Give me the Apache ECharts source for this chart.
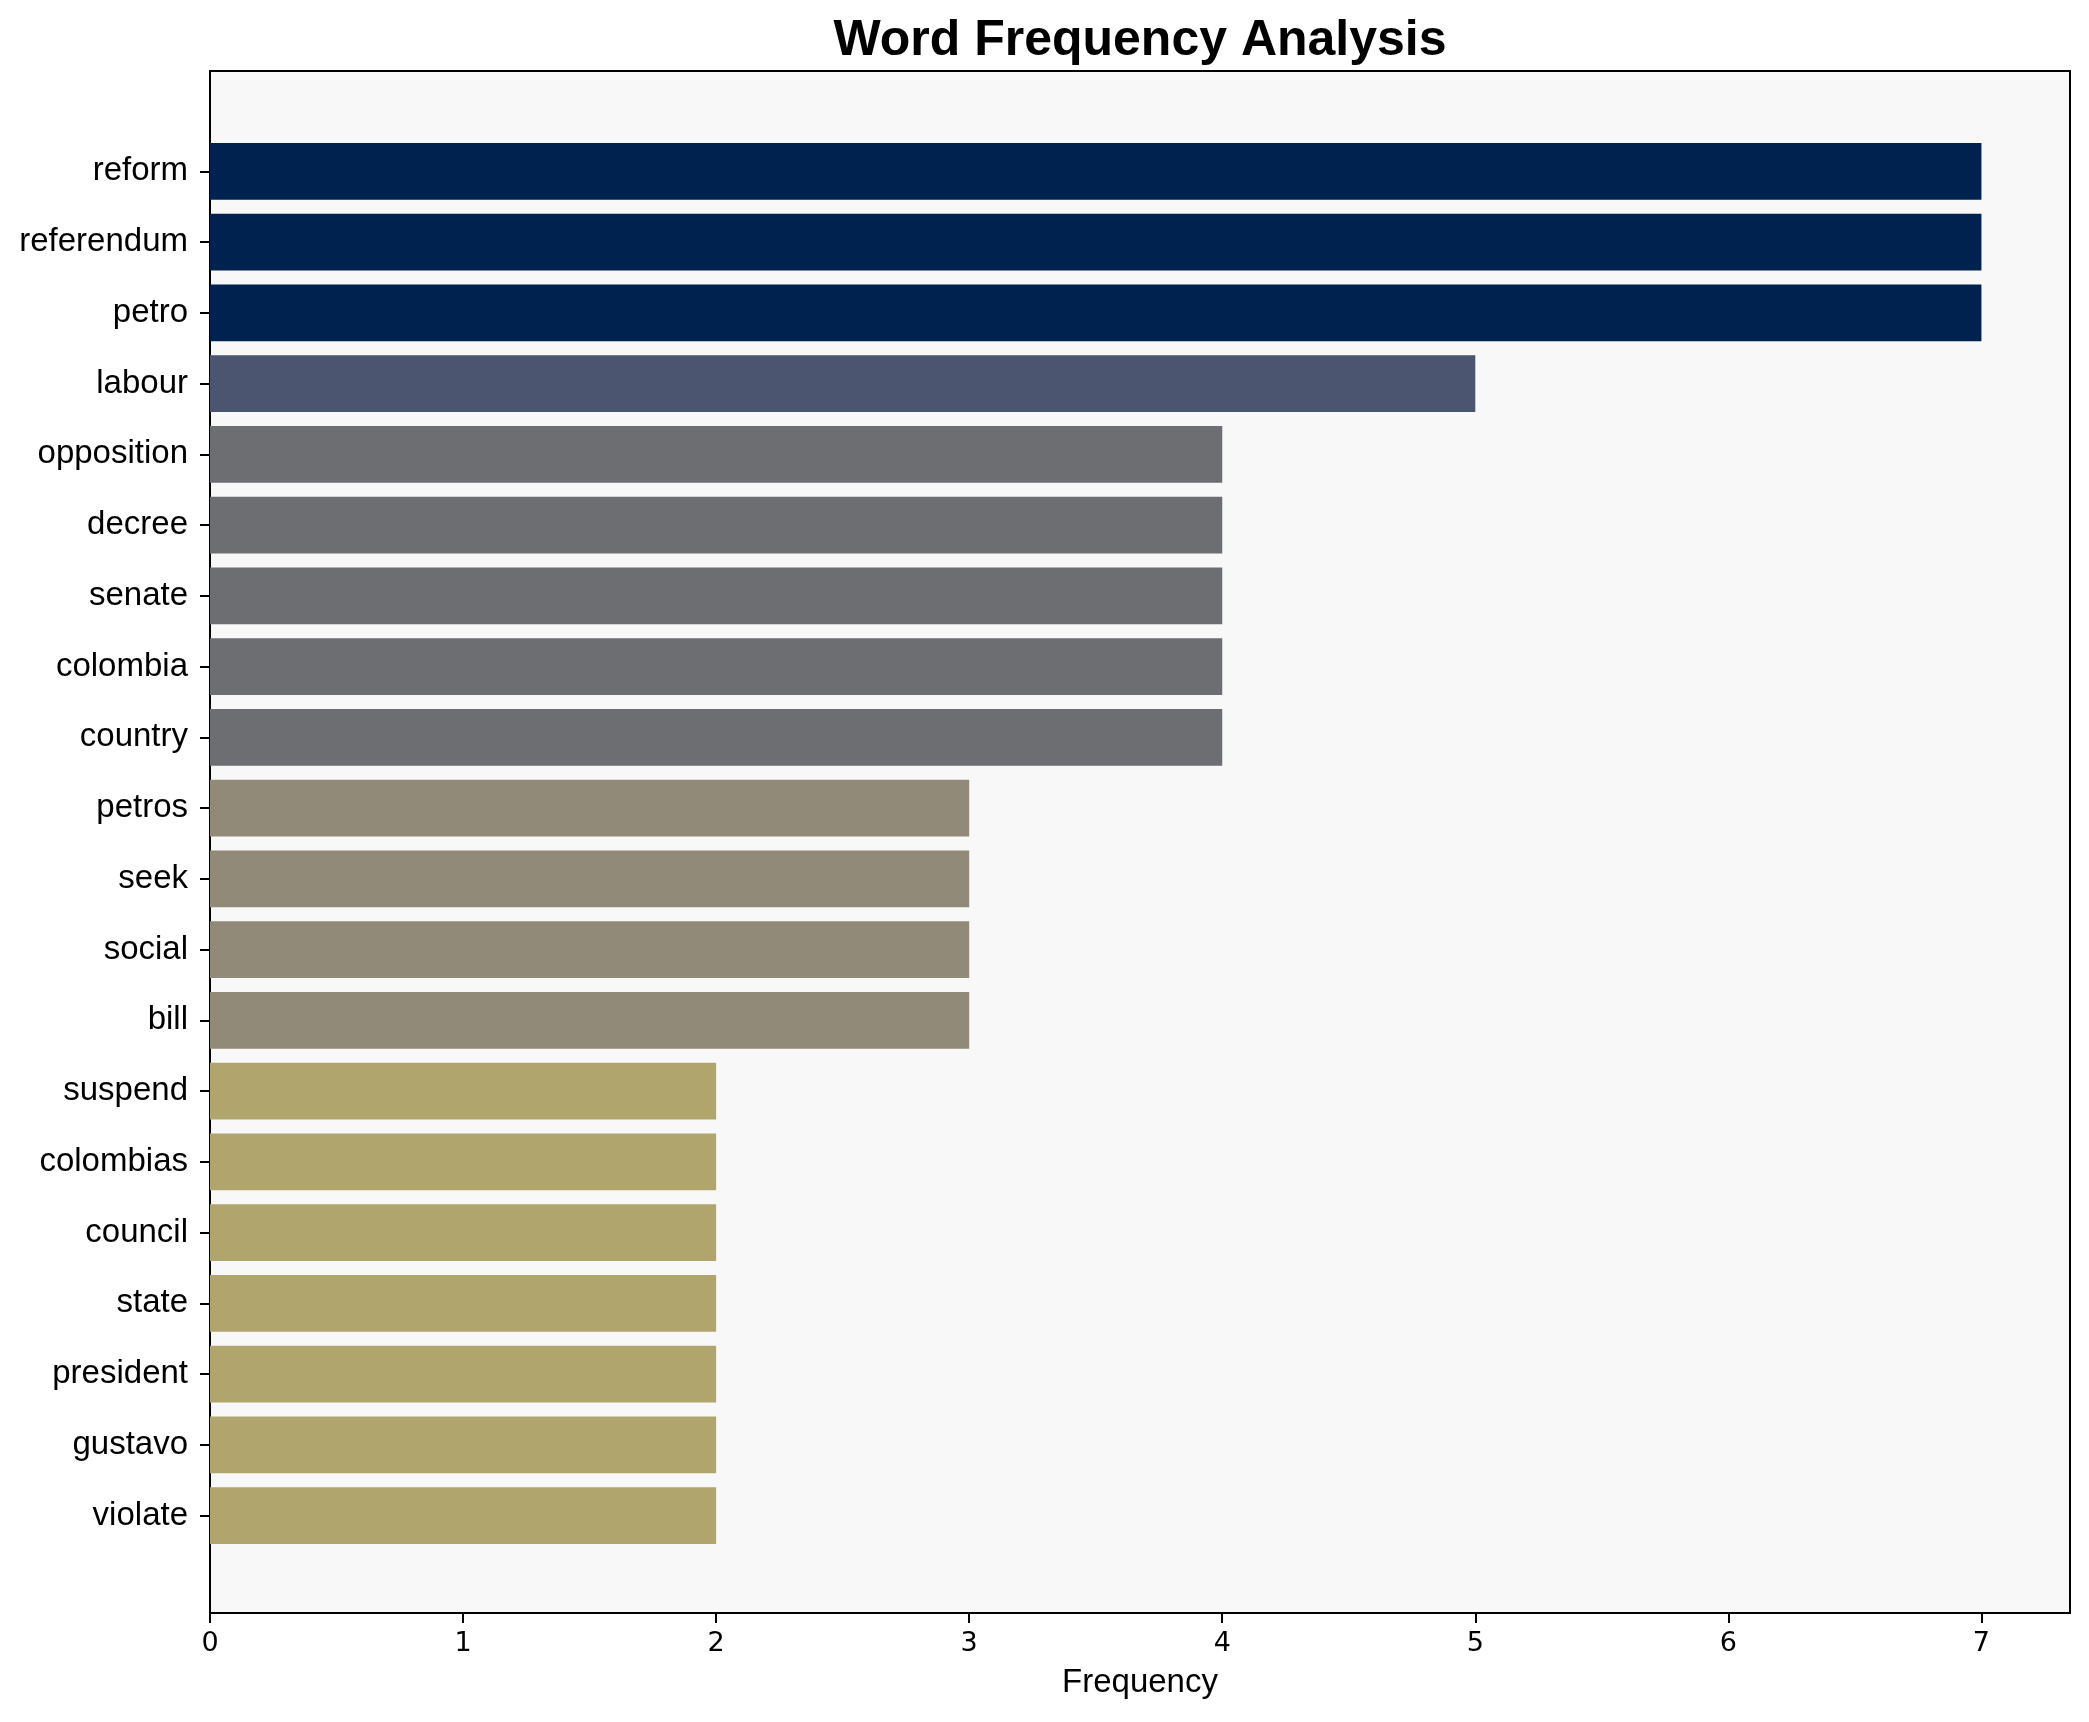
<!DOCTYPE html>
<html>
<head>
<meta charset="utf-8">
<script src="https://cdn.jsdelivr.net/npm/echarts@6/dist/echarts.min.js"></script>
<style>html,body{margin:0;padding:0;background:#fff}#c{width:2089px;height:1722px}</style>
</head>
<body>
<div id="c"></div>
<script>
const words = ["reform","referendum","petro","labour","opposition","decree","senate","colombia","country","petros","seek","social","bill","suspend","colombias","council","state","president","gustavo","violate"];
const freqs = [7,7,7,5,4,4,4,4,4,3,3,3,3,2,2,2,2,2,2,2];
const colorByValue = {7:"#00224f",5:"#4b5570",4:"#6d6e72",3:"#918a78",2:"#b1a56e"};
const xTicks = [0,1,2,3,4,5,6,7];
const xMax = 7.35;

const chart = echarts.init(document.getElementById('c'), null, {renderer:'canvas'});
chart.setOption({
  animation:false,
  backgroundColor:'#ffffff',
  graphic:[{
    type:'text', x:1140, y:41,
    style:{text:'Word Frequency Analysis', font:'bold 50px "Liberation Sans", Arial, sans-serif', fill:'#000', textAlign:'center', textVerticalAlign:'middle'}
  }],
  grid:[
    {left:210, right:19, top:71, bottom:109, show:true, backgroundColor:'#f8f8f8', borderColor:'#000', borderWidth:2, z:0},
    {left:210, right:19, top:136, bottom:171, show:false}
  ],
  xAxis:[
    {gridIndex:0, type:'value', min:0, max:xMax,
     axisLine:{show:false}, splitLine:{show:false},
     axisTick:{show:true, length:10, lineStyle:{color:'#000', width:2}, customValues:xTicks},
     axisLabel:{customValues:xTicks, margin:17, color:'#000', fontSize:27, fontFamily:'"DejaVu Sans", sans-serif'},
     name:'Frequency', nameLocation:'middle', nameGap:53,
     nameTextStyle:{color:'#000', fontSize:33, fontFamily:'"Liberation Sans", Arial, sans-serif'}},
    {gridIndex:1, type:'value', min:0, max:xMax, show:false}
  ],
  yAxis:[
    {gridIndex:0, type:'value', min:0, max:1, show:false},
    {gridIndex:1, type:'category', inverse:true, data:words,
     axisLine:{show:false},
     axisTick:{show:true, alignWithLabel:true, length:10, lineStyle:{color:'#000', width:2}},
     axisLabel:{margin:22, color:'#000', fontSize:33, fontFamily:'"Liberation Sans", Arial, sans-serif'}}
  ],
  series:[{
    type:'bar', xAxisIndex:1, yAxisIndex:1,
    data:freqs.map(v=>({value:v, itemStyle:{color:colorByValue[v]}})),
    barCategoryGap:'20%', z:5
  }]
});
</script>
</body>
</html>
